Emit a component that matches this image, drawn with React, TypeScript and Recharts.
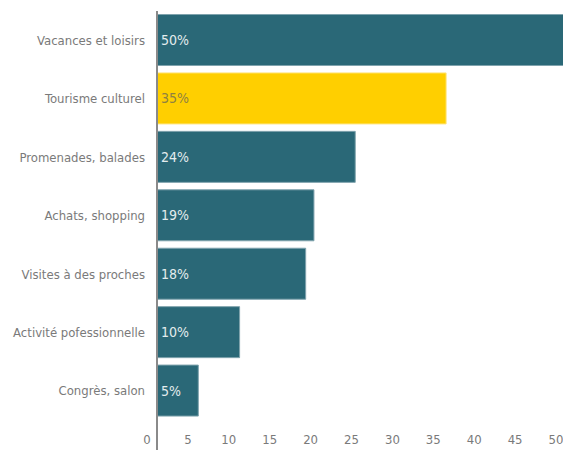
import { BarChart, Bar, XAxis, YAxis, Cell, LabelList } from 'recharts';

const categories = [
  'Vacances et loisirs',
  'Tourisme culturel',
  'Promenades, balades',
  'Achats, shopping',
  'Visites à des proches',
  'Activité pofessionnelle',
  'Congrès, salon',
];
const values = [50, 35, 24, 19, 18, 10, 5];
const highlighted = 'Tourisme culturel';
const xTicks = [0, 5, 10, 15, 20, 25, 30, 35, 40, 45, 50];

const data = categories.map((name, i) => ({ name, value: values[i] }));

const FONT = '"Liberation Sans Narrow", "DejaVu Sans Condensed", sans-serif';
const TEAL = '#2a6877';
const YELLOW = '#ffcf00';
const GREY = '#7a7a7a';

function XTick(props: any) {
  const { x, y, payload, index } = props;
  // labels sit a little left of their tick in the original
  const shift = -10 - index * 0.4;
  return (
    <g>
      {index === 0 && <line x1={x} y1={y - 20} x2={x} y2={y + 40} stroke="#8a8a8a" strokeWidth={2} />}
      <text x={x + shift} y={y} dy="0.71em" textAnchor="middle" fill={GREY} fontSize={13} fontFamily={FONT}>
        {payload.value}
      </text>
    </g>
  );
}

function BarLabel(props: any) {
  const { x, y, height, index } = props;
  const isHi = categories[index] === highlighted;
  return (
    <text
      x={x + 4}
      y={y + height / 2}
      dominantBaseline="central"
      fill={isHi ? '#8f8140' : '#e3ecee'}
      fontSize={14}
      fontFamily={FONT}
    >
      {values[index]}%
    </text>
  );
}

export default function App() {
  return (
    <div style={{ position: 'fixed', left: 0, top: 0, width: 563, height: 450, overflow: 'hidden', background: '#fff' }}>
      <BarChart
        width={580}
        height={450}
        data={data}
        layout="vertical"
        margin={{ top: 11, right: 10, bottom: 0, left: 0 }}
        barCategoryGap="6%"
      >
        <XAxis
          type="number"
          domain={[0, 50]}
          ticks={xTicks}
          axisLine={false}
          tickLine={false}
          height={30}
          tickMargin={9}
          tick={<XTick />}
        />
        <YAxis
          type="category"
          dataKey="name"
          width={157}
          axisLine={{ stroke: '#8a8a8a', strokeWidth: 2 }}
          tickLine={false}
          tickMargin={6}
          tick={{ fill: GREY, fontSize: 13, fontFamily: FONT }}
        />
        <Bar dataKey="value" isAnimationActive={false}>
          {data.map((d) => (
            <Cell
              key={d.name}
              fill={d.name === highlighted ? YELLOW : TEAL}
              stroke={d.name === highlighted ? '#ffe47a' : '#7fa3ad'}
              strokeWidth={1}
            />
          ))}
          <LabelList dataKey="value" content={<BarLabel />} />
        </Bar>
      </BarChart>
    </div>
  );
}
